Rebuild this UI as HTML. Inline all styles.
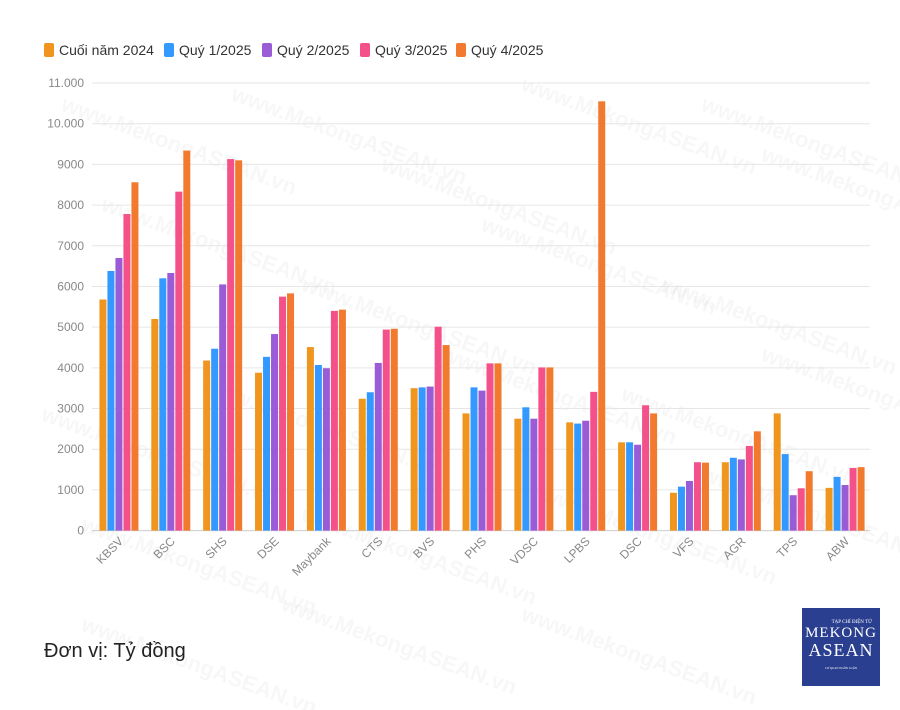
<!DOCTYPE html>
<html><head><meta charset="utf-8"><style>
html,body{margin:0;background:#fff;font-family:"Liberation Sans",sans-serif;overflow:hidden;width:900px;height:710px;}
#wrap{position:relative;width:900px;height:710px;overflow:hidden;}
.leg{position:absolute;top:42px;font-size:14px;color:#333;display:flex;align-items:center;}
.leg i{display:inline-block;width:10px;height:14px;border-radius:2px;margin-right:5px;}
</style></head><body>
<div id="wrap">
<svg id="chart" width="900" height="710" style="position:absolute;left:0;top:0;display:block"></svg>
<div id="legend"></div>
<div style="position:absolute;left:44px;top:640px;font-size:20px;color:#222;">Đơn vị: Tỷ đồng</div>
<div style="position:absolute;left:802px;top:608px;width:78px;height:78px;background:#2a3f8f;color:#fff;text-align:center;font-family:'Liberation Serif',serif;">
<div style="font-size:5px;margin-top:12px;text-align:right;padding-right:8px;">TẠP CHÍ ĐIỆN TỬ</div>
<div style="font-size:15px;letter-spacing:1px;line-height:16px;">MEKONG</div>
<div style="font-size:18px;letter-spacing:1px;line-height:19px;">ASEAN</div>
<div style="font-size:3px;margin-top:6px;">CƠ QUAN NGÔN LUẬN</div>
</div>
</div>
<script>
const categories=["KBSV","BSC","SHS","DSE","Maybank","CTS","BVS","PHS","VDSC","LPBS","DSC","VFS","AGR","TPS","ABW"];
const seriesNames=["Cuối năm 2024","Quý 1/2025","Quý 2/2025","Quý 3/2025","Quý 4/2025"];
const s2024=[5680,5200,4180,3880,4510,3240,3500,2880,2750,2660,2170,930,1680,2880,1050];
const q1=[6380,6200,4470,4270,4070,3400,3520,3520,3030,2630,2170,1080,1790,1880,1320];
const q2=[6700,6330,6050,4830,3990,4120,3540,3440,2750,2700,2110,1220,1750,870,1120];
const q3=[7780,8330,9130,5750,5400,4940,5010,4110,4010,3410,3080,1680,2080,1040,1540];
const q4=[8560,9340,9100,5830,5430,4960,4560,4110,4010,10550,2880,1670,2440,1460,1560];
const yTicks=[0,1000,2000,3000,4000,5000,6000,7000,8000,9000,10000,11000];
const yTickLabels=["0","1000","2000","3000","4000","5000","6000","7000","8000","9000","10.000","11.000"];
const colors=["#f0961e","#3399ff","#9a5bd6","#f4508a","#f27a2e"];
const series=[s2024,q1,q2,q3,q4];
const NS="http://www.w3.org/2000/svg";
const svg=document.getElementById('chart');
const x0=92,x1=870,yTop=83,yBot=530.6,yMax=11000;
const y=v=>yBot-(v/yMax)*(yBot-yTop);
const slot=(x1-x0)/categories.length;
const xc=i=>x0+slot*(i+0.5);
function el(t,a){const e=document.createElementNS(NS,t);for(const k in a)e.setAttribute(k,a[k]);svg.appendChild(e);return e;}
const wm=[[60,110],[230,100],[380,170],[520,90],[700,110],[100,210],[300,290],[480,230],[660,290],[760,160],[40,420],[200,390],[440,360],[620,400],[760,360],[80,530],[300,520],[540,500],[700,480],[80,630],[280,610],[520,620]];
wm.forEach(p=>{const t=el('text',{x:p[0],y:p[1],'font-size':22,'font-weight':'bold',fill:'#000','fill-opacity':0.03,transform:`rotate(20 ${p[0]} ${p[1]})`});t.textContent='www.MekongASEAN.vn';
});
yTicks.forEach((v,i)=>{
 const l=el('line',{x1:x0,x2:x1,y1:y(v),y2:y(v),stroke:i==0?'#ccc':'#e6e6e6','stroke-width':1});
 
 const t=el('text',{x:84,y:y(v)+4,'text-anchor':'end','font-size':12,fill:'#888'});t.textContent=yTickLabels[i];
 
});
const bw=7,gap=1;
categories.forEach((c,i)=>{
 const gw=5*bw+4*gap, start=xc(i)-gw/2+1;
 series.forEach((s,j)=>{
  const r=el('rect',{x:start+j*(bw+gap),y:y(s[i]),width:bw,height:yBot-y(s[i]),fill:colors[j]});
  
  
 });
 const tx=xc(i)+6,ty=542;
 const t=el('text',{x:tx,y:ty,'text-anchor':'end','font-size':12,fill:'#888',transform:`rotate(-45 ${tx} ${ty})`});t.textContent=c;
 
});
const leg=document.getElementById('legend');
const legX=[44,164,262,360,456];
seriesNames.forEach((n,j)=>{const d=document.createElement('div');d.className='leg';d.style.left=legX[j]+'px';
 d.innerHTML='<i style="background:'+colors[j]+'"></i>'+n;
 
 
 leg.appendChild(d);});
</script>
</body></html>
